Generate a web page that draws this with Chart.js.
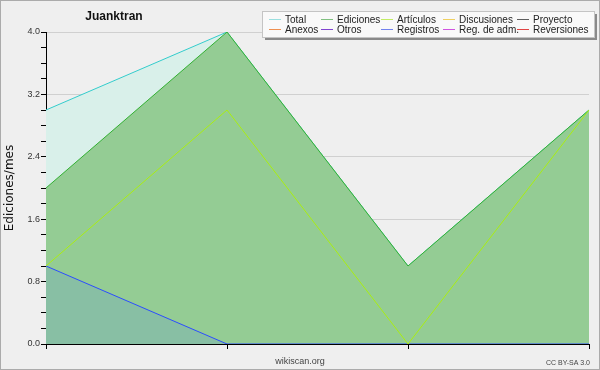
<!DOCTYPE html>
<html>
<head>
<meta charset="utf-8">
<script src="https://cdn.jsdelivr.net/npm/chart.js@4/dist/chart.umd.min.js"></script>
<style>
  html, body { margin: 0; padding: 0; background: #efefef; }
  canvas { display: block; }
</style>
</head>
<body>
<canvas id="chart" width="600" height="370"></canvas>
<script>
// months on the x axis (not labelled in the picture)
const months = ['1', '2', '3', '4']

// edits per month
const total = [3, 4, 1, 3]
const ediciones = [2, 4, 1, 3]
const articulos = [1, 3, 0, 3]
const registros = [1, 0, 0, 0]

// legend, in two rows of five
const legendNames = [
  'Total', 'Ediciones', 'Artículos', 'Discusiones', 'Proyecto',
  'Anexos', 'Otros', 'Registros', 'Reg. de adm.', 'Reversiones'
]
const legendColors = [
  '#9adfdf', '#80c080', '#c2ec64', '#efd060', '#5e5e5e',
  '#ef9050', '#8044d0', '#7282ee', '#d054e0', '#e04444'
]

const chartTitle = 'Juanktran'
const yTitle = 'Ediciones/mes'

const isMajor = (v) => Math.abs(v / 0.8 - Math.round(v / 0.8)) < 1e-6

// title, legend box, footer texts and frame
const decorations = {
  id: 'decorations',
  afterDraw(chart) {
    const ctx = chart.ctx
    ctx.save()

    ctx.fillStyle = '#111'
    ctx.font = 'bold 12px "Liberation Sans"'
    ctx.textAlign = 'center'
    ctx.textBaseline = 'alphabetic'
    ctx.fillText(chartTitle, 114, 20)

    // legend box with shadow
    ctx.fillStyle = '#8a8a8a'
    ctx.fillRect(265, 14, 332, 26)
    ctx.fillStyle = '#f9f9f9'
    ctx.fillRect(262, 11, 333, 27)
    ctx.strokeStyle = '#c4c4c4'
    ctx.lineWidth = 1
    ctx.strokeRect(262.5, 11.5, 332, 26)

    const colX = [269, 321, 381, 443, 517]
    const rowY = [19, 29]
    ctx.font = '10px "Liberation Sans"'
    ctx.textAlign = 'left'
    legendNames.forEach((name, i) => {
      const x = colX[i % 5]
      const y = rowY[Math.floor(i / 5)]
      ctx.strokeStyle = legendColors[i]
      ctx.beginPath()
      ctx.moveTo(x, y + 0.5)
      ctx.lineTo(x + 12, y + 0.5)
      ctx.stroke()
      ctx.fillStyle = '#222'
      ctx.fillText(name, x + 16, y + 3.5)
    })

    ctx.fillStyle = '#444'
    ctx.font = '9px "Liberation Sans"'
    ctx.textAlign = 'center'
    ctx.fillText('wikiscan.org', 300, 364)
    ctx.font = '7px "Liberation Sans"'
    ctx.textAlign = 'right'
    ctx.fillText('CC BY-SA 3.0', 590, 365)

    ctx.strokeStyle = '#ababab'
    ctx.strokeRect(0.5, 0.5, 599, 369)
    ctx.restore()
  }
}

new Chart(document.getElementById('chart'), {
  type: 'line',
  data: {
    labels: months,
    datasets: [
      {
        label: 'Total',
        data: total,
        borderColor: '#33cccc',
        backgroundColor: '#d9f0ea',
        fill: 'origin',
        order: 4
      },
      {
        label: 'Ediciones',
        data: ediciones,
        borderColor: '#33b033',
        backgroundColor: '#94cc94',
        fill: 'origin',
        order: 3
      },
      {
        label: 'Registros',
        data: registros,
        borderColor: '#2c4cff',
        backgroundColor: 'rgba(68, 120, 255, 0.15)',
        fill: 'origin',
        order: 2
      },
      {
        label: 'Artículos',
        data: articulos,
        borderColor: '#aaee11',
        fill: false,
        order: 1
      }
    ]
  },
  options: {
    responsive: false,
    animation: false,
    events: [],
    datasets: {
      line: {
        borderWidth: 1,
        pointRadius: 0,
        tension: 0
      }
    },
    layout: {
      autoPadding: false,
      padding: {top: 32, right: 11, left: 0, bottom: 0}
    },
    plugins: {
      legend: {display: false},
      title: {display: false},
      tooltip: {enabled: false}
    },
    scales: {
      x: {
        offset: false,
        border: {color: '#000', width: 1},
        grid: {
          drawOnChartArea: false,
          drawTicks: true,
          tickLength: 5,
          tickColor: '#000'
        },
        ticks: {display: false},
        afterFit(scale) { scale.height = 26 }
      },
      y: {
        min: 0,
        max: 4,
        z: 1,
        border: {color: '#000', width: 1},
        grid: {
          color: (c) => isMajor(c.tick.value) ? 'rgba(0, 0, 0, 0.13)' : 'rgba(0, 0, 0, 0)',
          tickColor: '#000',
          tickLength: 5
        },
        ticks: {
          stepSize: 0.2,
          autoSkip: false,
          padding: 1,
          color: '#333',
          font: {family: 'Liberation Sans', size: 9},
          callback: (v) => isMajor(v) ? v.toFixed(1) : ''
        },
        title: {
          display: true,
          text: yTitle,
          color: '#111',
          font: {family: 'DejaVu Sans', size: 12},
          padding: {top: 3, bottom: 0}
        },
        afterFit(scale) { scale.width = 46 }
      }
    }
  },
  plugins: [decorations]
})
</script>
</body>
</html>
